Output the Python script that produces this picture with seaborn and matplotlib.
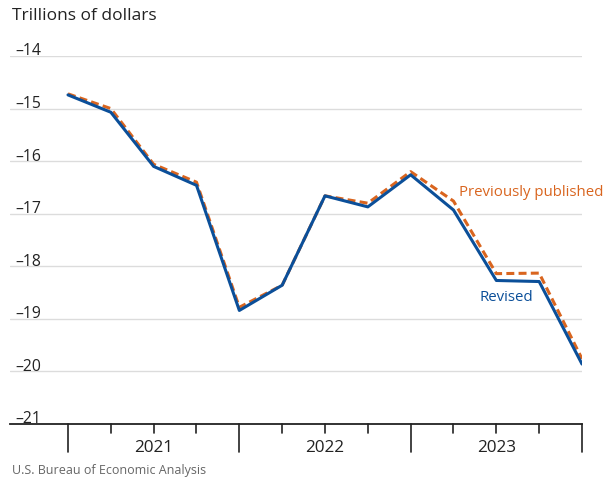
import matplotlib
matplotlib.use("Agg")
import matplotlib.pyplot as plt
import seaborn as sns
import pandas as pd

quarters = ["2020Q4", "2021Q1", "2021Q2", "2021Q3", "2021Q4", "2022Q1", "2022Q2",
            "2022Q3", "2022Q4", "2023Q1", "2023Q2", "2023Q3", "2023Q4"]
revised = [-14.74, -15.07, -16.10, -16.46, -18.84, -18.36, -16.66,
           -16.87, -16.26, -16.93, -18.27, -18.29, -19.86]
previous = [-14.72, -15.00, -16.06, -16.40, -18.78, -18.36, -16.66,
            -16.80, -16.20, -16.76, -18.14, -18.13, -19.76]
y_ticks = [-14, -15, -16, -17, -18, -19, -20, -21]
years = ["2021", "2022", "2023"]

BLUE = "#0b4f99"
ORANGE = "#d9651f"
FONT = "Open Sans"

sns.set_theme(style="white")
plt.rcParams['font.family'] = [FONT, 'DejaVu Sans']

df = pd.DataFrame({"i": range(len(quarters)), "Revised": revised, "Previously published": previous})

fig = plt.figure(figsize=(6.06, 4.81), dpi=100)
ax = fig.add_axes([10/606, 1-425/481, (582-10)/606, (425-57)/481])

sns.lineplot(data=df, x="i", y="Previously published", ax=ax, color=ORANGE,
             linewidth=2.2)
ax.lines[-1].set_linestyle((0, (2.6, 1.4)))
sns.lineplot(data=df, x="i", y="Revised", ax=ax, color=BLUE, linewidth=2.2)

ax.set_xlim(-1.354, 12)
ax.set_ylim(-21, -14)
ax.set_xlabel("")
ax.set_ylabel("")
ax.set_xticks([])
ax.set_yticks([])
for s in ["top", "right", "left"]:
    ax.spines[s].set_visible(False)
ax.spines["bottom"].set_color("#222222")
ax.spines["bottom"].set_linewidth(1.3)
ax.spines["bottom"].set_zorder(5)

for v in y_ticks:
    if v != -21:
        ax.axhline(v, color="#dcdcdc", linewidth=1.0, zorder=0)
    ax.text(-1.24, v + 0.03, "–" + str(abs(v)), ha="left", va="baseline",
            fontsize=11.3, color="#222222")

# x ticks (below axis)
trans = ax.get_xaxis_transform()
for k in range(len(quarters)):
    major = (k % 4 == 0)
    ax.plot([k, k], [0, -0.075 if major else -0.025], transform=trans,
            color="#222222", linewidth=1.2, clip_on=False)
for j, yr in enumerate(years):
    ax.text(4 * j + 2, -0.063, yr, transform=trans, ha="center", va="center",
            fontsize=12.3, color="#222222")

ax.text(9.13, -16.57, "Previously published", color=ORANGE, fontsize=10.8,
        ha="left", va="center")
ax.text(9.6, -18.57, "Revised", color=BLUE, fontsize=10.8, ha="left", va="center")

fig.text(12/606, 1-16/481, "Trillions of dollars", ha="left", va="center",
         fontsize=12.5, color="#222222")
fig.text(12/606, 1-471/481, "U.S. Bureau of Economic Analysis", ha="left",
         va="center", fontsize=9, color="#666666")

fig.savefig("out.png", dpi=100)
